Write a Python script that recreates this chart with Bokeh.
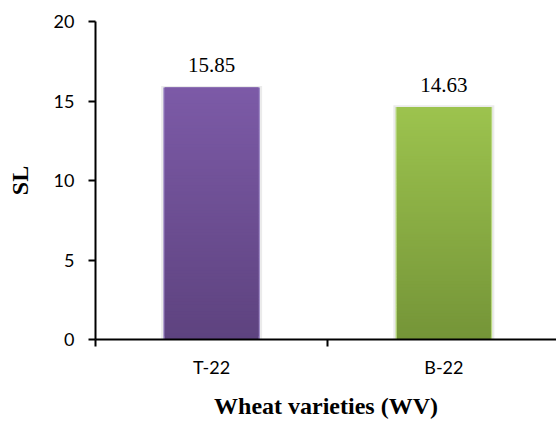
from bokeh.plotting import figure
from bokeh.models import (ColumnDataSource, Range1d, LinearAxis,
                          FixedTicker, LabelSet)
from bokeh.core.properties import value
from bokeh.embed import file_html
from bokeh.resources import INLINE

# ---- data ----
varieties = ["T-22", "B-22"]
sl_values = [15.85, 14.63]
y_ticks = [0, 5, 10, 15, 20]
# gradient colours (top, bottom) per bar
top_colors = [(124, 90, 167), (156, 195, 78)]
bottom_colors = [(94, 67, 127), (117, 149, 56)]
edge_colors = ["#9a84c4", "#b6d67c"]

# category centres on a numeric scale (one unit per category)
centers = [i + 0.5 for i in range(len(varieties))]
boundaries = [float(i) for i in range(len(varieties))]

p = figure(x_range=Range1d(0, 1.985), y_range=Range1d(0, 20),
           width=556, height=423, output_backend="svg", toolbar_location=None,
           x_axis_location=None, y_axis_location=None,
           min_border_left=95, min_border_right=0, min_border_top=21,
           min_border_bottom=84)
p.outline_line_color = None
p.xgrid.visible = False
p.ygrid.visible = False

# soft shadow
p.vbar(x=centers, top=[v + 0.1 for v in sl_values], width=0.435,
       fill_color="#000000", fill_alpha=0.08, line_color=None)
# light side edges
p.vbar(x=centers, top=sl_values, width=0.416, fill_color=edge_colors,
       line_color=None)

# gradient bars built from slices of the data values
N = 80
xs, bots, tops, cols = [], [], [], []
for cx, val, ct, cb in zip(centers, sl_values, top_colors, bottom_colors):
    for i in range(N):
        f = i / (N - 1)
        r = int(round(cb[0] + (ct[0] - cb[0]) * f))
        g = int(round(cb[1] + (ct[1] - cb[1]) * f))
        b = int(round(cb[2] + (ct[2] - cb[2]) * f))
        xs.append(cx)
        bots.append(val * i / N)
        tops.append(min(val, val * (i + 2) / N))
        cols.append("#%02x%02x%02x" % (r, g, b))
src = ColumnDataSource(dict(x=xs, bottom=bots, top=tops, color=cols))
p.vbar(x="x", bottom="bottom", top="top", width=0.404, fill_color="color",
       line_color=None, source=src)

# value labels
lab_src = ColumnDataSource(dict(x=centers, y=sl_values,
                                text=["%.2f" % v for v in sl_values]))
p.add_layout(LabelSet(x="x", y="y", text="text", source=lab_src,
                      text_align="center", text_baseline="alphabetic",
                      y_offset=15,
                      text_font=value("Liberation Serif"),
                      text_font_size=value("21px"), text_color="#000000"))

# y axis
yaxis = LinearAxis(ticker=FixedTicker(ticks=y_ticks), axis_label="SL")
yaxis.axis_line_width = 2
yaxis.axis_line_color = "#000000"
yaxis.major_tick_line_width = 2
yaxis.major_tick_line_color = "#000000"
yaxis.major_tick_out = 7
yaxis.major_tick_in = 0
yaxis.minor_tick_line_color = None
yaxis.major_label_text_font = "Lato"
yaxis.major_label_text_font_size = "18px"
yaxis.major_label_text_color = "#000000"
yaxis.major_label_standoff = 14
yaxis.axis_label_text_font = "Liberation Serif"
yaxis.axis_label_text_font_style = "bold"
yaxis.axis_label_text_font_size = "24px"
yaxis.axis_label_text_color = "#000000"
yaxis.axis_label_standoff = 18
p.add_layout(yaxis, "left")

# x axis: labels at category centres, tick marks between categories
xaxis = LinearAxis(ticker=FixedTicker(ticks=centers, minor_ticks=boundaries),
                   axis_label="Wheat varieties (WV)")
xaxis.major_label_overrides = {c: name for c, name in zip(centers, varieties)}
xaxis.axis_line_width = 2
xaxis.axis_line_color = "#000000"
xaxis.major_tick_line_color = None
xaxis.major_tick_out = 0
xaxis.major_tick_in = 0
xaxis.minor_tick_line_color = "#000000"
xaxis.minor_tick_line_width = 2
xaxis.minor_tick_out = 7
xaxis.minor_tick_in = 0
xaxis.major_label_text_font = "Lato"
xaxis.major_label_text_font_size = "18px"
xaxis.major_label_text_color = "#000000"
xaxis.major_label_standoff = 9
xaxis.axis_label_text_font = "Liberation Serif"
xaxis.axis_label_text_font_style = "bold"
xaxis.axis_label_text_font_size = "24px"
xaxis.axis_label_text_color = "#000000"
xaxis.axis_label_standoff = 12
p.add_layout(xaxis, "below")

open("out.html", "w").write(file_html(p, INLINE))
